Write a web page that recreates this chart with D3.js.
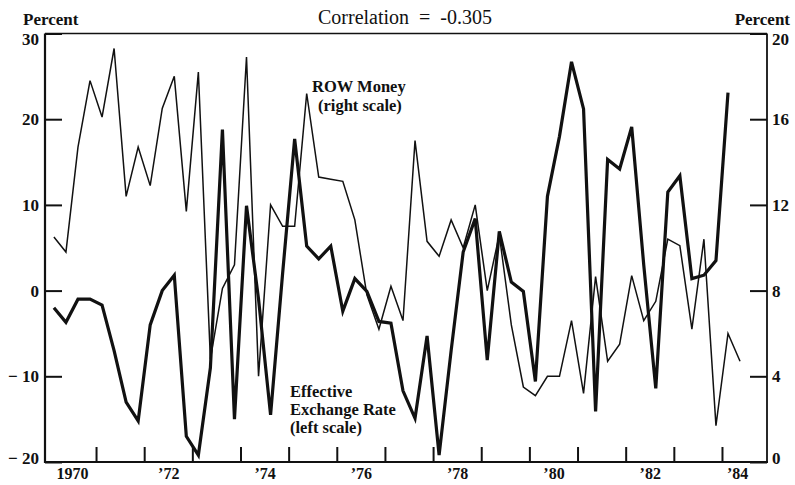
<!DOCTYPE html>
<html>
<head>
<meta charset="utf-8">
<script src="https://cdn.jsdelivr.net/npm/d3@7"></script>
<style>
  body { margin: 0; background: #fff; }
  svg text { font-family: "Liberation Serif", "Times New Roman", serif; fill: #111; }
</style>
</head>
<body>
<svg id="chart"></svg>
<script>
// quarterly values, 1970Q1 onward
const exchangeRate = [
  -2, -3.7, -1, -1, -1.7, -7, -13, -15.2, -4, 0,
  1.8, -17, -19.2, -9, 18.8, -15, 9.9, -1, -14.5, 2,
  17.7, 5.2, 3.7, 5.2, -2.4, 1.4, -0.1, -3.6, -3.8, -11.7,
  -14.9, -5.3, -19.2, -7, 4.5, 8.4, -8.1, 6.9, 1.0, -0.1,
  -10.6, 11.0, 18.0, 26.7, 21.2, -14.1, 15.3, 14.2, 19.1, 3,
  -11.4, 11.5, 13.4, 1.4, 1.8, 3.5, 23.1
];
const rowMoney = [
  10.5, 9.8, 14.7, 17.8, 16.1, 19.3, 12.4, 14.7, 12.9, 16.5,
  18.0, 11.7, 18.2, 4.8, 8.1, 9.2, 18.9, 4.0, 12.0, 11.0,
  11.0, 17.2, 13.3, 13.2, 13.1, 11.3, 7.8, 6.2, 8.2, 6.6,
  15.0, 10.3, 9.6, 11.3, 10.0, 12.0, 8.0, 10.6, 6.4, 3.5,
  3.1, 4.0, 4.0, 6.6, 3.2, 8.65, 4.7, 5.5, 8.7, 6.6,
  7.5, 10.4, 10.1, 6.2, 10.4, 1.7, 6.0, 4.7
];
const startYear = 1970;
const leftTicks = [-20, -10, 0, 10, 20, 30];
const rightTicks = [0, 4, 8, 12, 16, 20];
const yearTicks = [1971, 1972, 1973, 1974, 1975, 1976, 1977, 1978, 1979, 1980, 1981, 1982, 1983, 1984];
const yearLabels = [1970, 1972, 1974, 1976, 1978, 1980, 1982, 1984];
const correlation = "-0.305";

class DualAxisChart {
  margin = { top: 33.5, right: 28, bottom: 23, left: 45 }

  constructor(svg, width = 795, height = 485) {
    this.svg = d3.select(svg);
    this.width = width - this.margin.left - this.margin.right;
    this.height = height - this.margin.top - this.margin.bottom;
    this.svg.attr("width", width).attr("height", height);
  }

  draw() {
    const m = this.margin, w = this.width, h = this.height;
    const g = this.svg.append("g").attr("transform", `translate(${m.left},${m.top})`);

    const x = d3.scaleLinear().domain([1969.94, 1984.935]).range([0, w]);
    const yLeft = d3.scaleLinear().domain([-20, 30]).range([h, 0]);
    const yRight = d3.scaleLinear().domain([0, 20]).range([h, 0]);
    const when = i => startYear + i / 4 + 0.125;

    const fmt = d => d < 0 ? "\u2212 " + (-d) : String(d);
    const edgeShift = (sel, lo, hi) => sel.selectAll(".tick text")
      .attr("transform", d => d === hi ? "translate(0,6)" : d === lo ? "translate(0,-4)" : null);

    const left = g.append("g")
      .call(d3.axisLeft(yLeft).tickValues(leftTicks).tickSize(-17).tickPadding(6).tickFormat(fmt));
    edgeShift(left, -20, 30);

    const right = g.append("g").attr("transform", `translate(${w},0)`)
      .call(d3.axisRight(yRight).tickValues(rightTicks).tickSize(-17).tickPadding(5));
    edgeShift(right, 0, 20);

    g.append("g").attr("transform", `translate(0,${h})`)
      .call(d3.axisBottom(x).tickValues(yearTicks).tickSize(-15).tickFormat(""));

    const bottom = g.append("g").attr("transform", `translate(0,${h})`)
      .call(d3.axisBottom(x).tickValues(yearLabels.map(y => y + 0.5)).tickSize(0).tickPadding(6)
        .tickFormat(d => { const y = Math.floor(d); return y === 1970 ? "1970" : "\u2019" + String(y).slice(2); }));
    bottom.selectAll(".tick text").attr("dx", d => Math.floor(d) === 1984 ? -9 : 0);

    g.selectAll(".domain").remove();
    g.selectAll(".tick line").attr("stroke", "#111").attr("stroke-width", 2);
    g.selectAll(".tick text").attr("font-size", 17).attr("font-weight", "bold").attr("fill", "#111");
    bottom.selectAll(".tick text").attr("font-size", 16);

    // frame
    g.append("line").attr("x1", 0).attr("x2", w).attr("y1", 0).attr("y2", 0).attr("stroke", "#111").attr("stroke-width", 1.6);
    g.append("line").attr("x1", w).attr("x2", w).attr("y1", 0).attr("y2", h).attr("stroke", "#111").attr("stroke-width", 1.8);
    g.append("line").attr("x1", 0).attr("x2", 0).attr("y1", 0).attr("y2", h + 1).attr("stroke", "#111").attr("stroke-width", 2.2);
    g.append("line").attr("x1", -1).attr("x2", w + 1).attr("y1", h).attr("y2", h).attr("stroke", "#111").attr("stroke-width", 2.2);

    const thin = d3.line().x((d, i) => x(when(i))).y(d => yRight(d));
    const thick = d3.line().x((d, i) => x(when(i))).y(d => yLeft(d));

    g.append("path").datum(rowMoney).attr("d", thin)
      .attr("fill", "none").attr("stroke", "#111").attr("stroke-width", 1.5).attr("stroke-linejoin", "miter");
    g.append("path").datum(exchangeRate).attr("d", thick)
      .attr("fill", "none").attr("stroke", "#111").attr("stroke-width", 3.2).attr("stroke-linejoin", "miter");

    // titles
    this.svg.append("text").attr("x", 23).attr("y", 25).attr("font-size", 17).attr("font-weight", "bold").text("Percent");
    this.svg.append("text").attr("x", 790).attr("y", 25).attr("text-anchor", "end").attr("font-size", 17).attr("font-weight", "bold").text("Percent");
    this.svg.append("text").attr("x", 405).attr("y", 24).attr("text-anchor", "middle").attr("font-size", 20)
      .attr("xml:space", "preserve").text(`Correlation  =  ${correlation}`);

    const note = (lines, x0, y0) => lines.forEach((t, i) =>
      this.svg.append("text").attr("x", x0).attr("y", y0 + i * 18).attr("font-size", 16.5).attr("font-weight", "bold").text(t));
    note(["ROW Money"], 312, 92);
    note(["(right scale)"], 318, 111);
    note(["Effective", "Exchange Rate", "(left scale)"], 290, 397);
  }
}

new DualAxisChart("#chart").draw();
</script>
</body>
</html>
